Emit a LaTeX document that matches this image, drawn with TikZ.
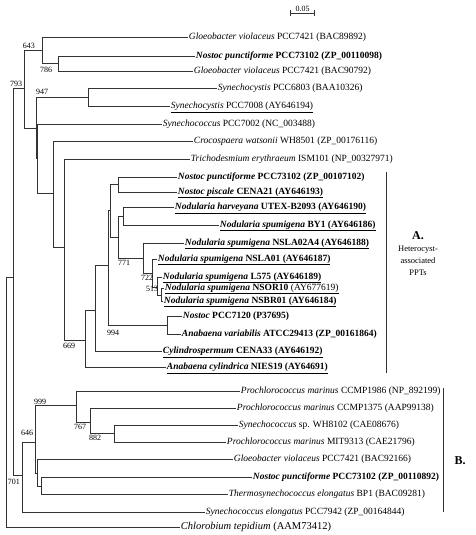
\documentclass[tikz,border=0pt]{standalone}
\usepackage{fontspec}
\setmainfont{Liberation Serif}
\usepackage{tikz}
\usetikzlibrary{positioning}

\newcommand{\tx}[2]{\textit{#1} #2}
\newcommand{\txb}[2]{\textbf{\textit{#1} #2}}

\begin{document}
\begin{tikzpicture}[x=1pt, y=-1pt, line width=0.7pt, draw=black!80,
    leaf/.style={anchor=west, inner sep=0.6pt, text height=6.5pt, text depth=2pt,
      font=\fontsize{9.5}{11}\selectfont},
    boot/.style={inner sep=0pt, font=\fontsize{8}{9}\selectfont},
    grp/.style={inner sep=0pt, font=\fontsize{12}{14}\selectfont\bfseries},
    grptext/.style={inner sep=0pt, align=center, font=\fontsize{8.5}{12}\selectfont}]
    \useasboundingbox (0,0) rectangle (475,535);

    \coordinate (r0) at (6,277);
    \coordinate (a0) at (13,277);
    \coordinate (n793) at (24,88);
    \coordinate (n643) at (42,50);
    \coordinate (n786) at (58,63);
    \coordinate (p36) at (36,128);
    \coordinate (n947) at (88,97);
    \coordinate (q37) at (37,158);
    \coordinate (r53) at (53,193);
    \coordinate (s64) at (64,247);
    \coordinate (n669) at (85,340);
    \coordinate (c95) at (95,310);
    \coordinate (t108) at (108,265);
    \coordinate (t110) at (110,210);
    \coordinate (p118) at (118,184);
    \coordinate (n118) at (118,237);
    \coordinate (u123) at (123,216);
    \coordinate (n771) at (143,258);
    \coordinate (n722) at (152,273);
    \coordinate (n513) at (157,287);
    \coordinate (y161) at (161,295);
    \coordinate (n994) at (167,325);
    \coordinate (n701) at (22,475);
    \coordinate (n646) at (35,442);
    \coordinate (n999) at (76,405);
    \coordinate (n767) at (90,422);
    \coordinate (n882) at (114,433);
    \coordinate (g37) at (37,473);
    \coordinate (h41) at (41,486);

    \node[leaf] (l01) at (188,37) {\tx{Gloeobacter violaceus}{PCC7421 (BAC89892)}};
    \node[leaf] (l02) at (195,56) {\txb{Nostoc punctiforme}{PCC73102 (ZP\_00110098)}};
    \node[leaf] (l03) at (193,71) {\tx{Gloeobacter violaceus}{PCC7421 (BAC90792)}};
    \node[leaf] (l04) at (217,88) {\tx{Synechocystis}{PCC6803 (BAA10326)}};
    \node[leaf] (l05) at (170,106) {\underline{\tx{Synechocystis}{PCC7008 (AY646194)}}};
    \node[leaf] (l06) at (162,124) {\tx{Synechococcus}{PCC7002 (NC\_003488)}};
    \node[leaf] (l07) at (193,141) {\tx{Crocospaera watsonii}{WH8501 (ZP\_00176116)}};
    \node[leaf] (l08) at (190,159) {\tx{Trichodesmium erythraeum}{ISM101 (NP\_00327971)}};
    \node[leaf] (l09) at (177,177) {\txb{Nostoc punctiforme}{PCC73102 (ZP\_00107102)}};
    \node[leaf] (l10) at (177,192) {\underline{\txb{Nostoc piscale}{CENA21 (AY646193)}}};
    \node[leaf] (l11) at (174,207) {\underline{\txb{Nodularia harveyana}{UTEX-B2093 (AY646190)}}};
    \node[leaf] (l12) at (219,225) {\underline{\txb{Nodularia spumigena}{BY1 (AY646186)}}};
    \node[leaf] (l13) at (184,243) {\underline{\txb{Nodularia spumigena}{NSLA02A4 (AY646188)}}};
    \node[leaf] (l14) at (157,259) {\underline{\txb{Nodularia spumigena}{NSLA01 (AY646187)}}};
    \node[leaf] (l15) at (162,277) {\underline{\txb{Nodularia spumigena}{L575 (AY646189)}}};
    \node[leaf] (l16) at (164,288) {\underline{\txb{Nodularia spumigena}{NSOR10} (AY677619)}};
    \node[leaf] (l17) at (163,301) {\underline{\txb{Nodularia spumigena}{NSBR01 (AY646184)}}};
    \node[leaf] (l18) at (182,316) {\txb{Nostoc}{PCC7120 (P37695)}};
    \node[leaf] (l19) at (181,334) {\txb{Anabaena variabilis}{ATCC29413 (ZP\_00161864)}};
    \node[leaf] (l20) at (162,351) {\underline{\txb{Cylindrospermum}{CENA33 (AY646192)}}};
    \node[leaf] (l21) at (166,367) {\underline{\txb{Anabaena cylindrica}{NIES19 (AY64691)}}};
    \node[leaf] (l22) at (240,391) {\tx{Prochlorococcus marinus}{CCMP1986 (NP\_892199)}};
    \node[leaf] (l23) at (236,408) {\tx{Prochlorococcus marinus}{CCMP1375 (AAP99138)}};
    \node[leaf] (l24) at (238,425) {\tx{Synechococcus}{sp. WH8102 (CAE08676)}};
    \node[leaf] (l25) at (226,442) {\tx{Prochlorococcus marinus}{MIT9313 (CAE21796)}};
    \node[leaf] (l26) at (233,459) {\tx{Gloeobacter violaceus}{PCC7421 (BAC92166)}};
    \node[leaf] (l27) at (252,477) {\txb{Nostoc punctiforme}{PCC73102 (ZP\_00110892)}};
    \node[leaf] (l28) at (228,494) {\tx{Thermosynechococcus elongatus}{BP1 (BAC09281)}};
    \node[leaf] (l29) at (205,512) {\tx{Synechococcus elongatus}{PCC7942 (ZP\_00164844)}};
    \node[leaf, font=\fontsize{10.5}{12}\selectfont] (l30) at (180,527) {\tx{Chlorobium tepidium}{(AAM73412)}};

    \draw (r0) -- (a0);
    \foreach \p/\c in {r0/l30.west, a0/n793, a0/n701, n793/n643, n793/p36,
        n643/l01.west, n643/n786, n786/l02.west, n786/l03.west,
        p36/n947, p36/q37, n947/l04.west, n947/l05.west,
        q37/l06.west, q37/r53, r53/l07.west, r53/s64,
        s64/l08.west, s64/n669, n669/c95, n669/l21.west,
        c95/t108, c95/l20.west, t108/t110, t108/n994,
        t110/p118, t110/n118, p118/l09.west, p118/l10.west,
        n118/u123, n118/n771, u123/l11.west, u123/l12.west,
        n771/l13.west, n771/n722, n722/l14.west, n722/n513,
        n513/l15.west, n513/y161, y161/l16.west, y161/l17.west,
        n994/l18.west, n994/l19.west,
        n701/n646, n701/l29.west, n646/n999, n646/g37,
        n999/l22.west, n999/n767, n767/l23.west, n767/n882,
        n882/l24.west, n882/l25.west, g37/l26.west, g37/h41,
        h41/l27.west, h41/l28.west}
        \draw (\p) |- (\c);

    \node[boot] (b643) at (29,46) {643};
    \node[boot] (b786) at (46,70) {786};
    \node[boot] (b793) at (16,84) {793};
    \node[boot] (b947) at (42,92) {947};
    \node[boot] (b771) at (124,263) {771};
    \node[boot] (b722) at (147,278) {722};
    \node[boot] (b513) at (152,289) {513};
    \node[boot] (b994) at (113,333) {994};
    \node[boot] (b669) at (69,346) {669};
    \node[boot] (b999) at (40,402) {999};
    \node[boot] (b767) at (80,427) {767};
    \node[boot] (b882) at (95,438) {882};
    \node[boot] (b646) at (27,433) {646};
    \node[boot] (b701) at (14,482) {701};

    \coordinate (sbl) at (290,13);
    \coordinate (sbr) at (315,13);
    \draw[|-|, line width=0.6pt] (sbl) -- (sbr) node[boot, midway, above=1.5pt] (sblabel) {0.05};

    \coordinate (atop) at (386,172);
    \coordinate (abot) at (386,373);
    \draw[line width=1pt] (atop) -- (abot);
    \node[grp] (alabel) at (418,236) {A.};
    \node[grptext, below=5pt of alabel.south] (atext) {Heterocyst-\\associated\\PPTs};

    \coordinate (btop) at (443,388);
    \coordinate (bbot) at (443,512);
    \draw[line width=1pt] (btop) -- (bbot);
    \node[grp] (blabel) at (460,461) {B.};
\end{tikzpicture}
\end{document}
